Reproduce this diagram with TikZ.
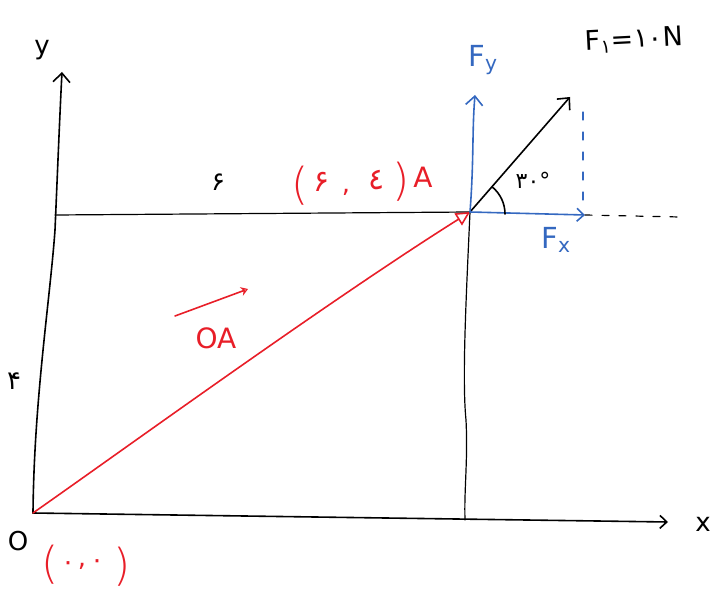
\documentclass[tikz,border=0pt]{standalone}
\usepackage{fontspec}
\setmainfont{DejaVu Sans}
\newfontfamily\fa{DejaVu Sans}
\usetikzlibrary{arrows.meta}
\definecolor{penred}{RGB}{232,30,40}
\definecolor{penblue}{RGB}{52,104,192}
\tikzset{
  ink/.style={line width=1.6pt, line cap=round, line join=round},
  thin ink/.style={line width=1.2pt, line cap=round},
  barb/.style={-{Straight Barb[length=9pt,width=17pt,line width=1.6pt]}},
  smallbarb/.style={-{Straight Barb[length=7pt,width=13pt,line width=1.6pt]}},
  lbl/.style={inner sep=0pt, font=\fontsize{26}{26}\selectfont},
  redlbl/.style={lbl, text=penred},
  bluelbl/.style={lbl, text=penblue, font=\fontsize{29}{29}\selectfont},
  paren/.style={redlbl, font=\fontsize{44}{44}\selectfont\fontspec{DejaVu Sans ExtraLight}},
}
\begin{document}
\begin{tikzpicture}[x=1pt,y=-1pt]
\useasboundingbox (0,0) rectangle (728,596);
% key points
\coordinate (O) at (33,513);
\coordinate (A) at (470,212);
\coordinate (ytip) at (62,72);
\coordinate (xtip) at (668,522);
\coordinate (hstart) at (55,215);
\coordinate (vbot) at (465,520);
\coordinate (Fytip) at (475,95);
\coordinate (Fxtip) at (585,215);
\coordinate (Ftip) at (570,97);
\coordinate (dtop) at (583,112);
\coordinate (dbot) at (583,206);
\coordinate (dend) at (680,217);
\coordinate (vs) at (175,316);
\coordinate (ve) at (248,289);
% axes
\draw[ink, barb] (O) .. controls (34,400) and (50,300) .. (55,230) .. controls (58,160) and (60,110) .. (ytip);
\draw[ink, smallbarb] (O) -- (xtip);
\node[lbl] (ylab) at (42,50) {y};
\node[lbl] (xlab) at (703,524) {x};
\node[lbl] (Olab) at (18,541) {O};
% guide lines
\draw[thin ink] (hstart) -- (A);
\draw[thin ink] (A) .. controls (466,300) and (462,380) .. (466,420) .. controls (468,460) and (464,490) .. (vbot);
\node[lbl] (six) at (218,182) {\fa ۶};
\node[lbl] (four) at (14,381) {\fa ۴};
% position vector
\draw[ink, penred, -{Triangle[open,length=14pt,width=14pt,line width=1.6pt]}] (O) .. controls (130,445) and (330,300) .. (A);
\draw[ink, penred, -{Stealth[open,length=7pt,width=9pt,line width=1.4pt]}] (vs) -- (ve);
\node[redlbl, font=\fontsize{28}{28}\selectfont] (OA) at (216,338) {OA};
% point A label
\node[paren] (pl) at (300,186) {(};
\node[redlbl, font=\fontsize{30}{30}\selectfont] (d6) at (322,182) {\fa ۶};
\node[redlbl] (cm) at (346,192) {,};
\node[redlbl, font=\fontsize{30}{30}\selectfont] (d4) at (377,180) {\fa ٤};
\node[paren] (pr) at (401,182) {)};
\node[redlbl, font=\fontsize{28}{28}\selectfont] (Alab) at (423,177) {A};
% origin label
\node[paren] (ol) at (50,565) {(};
\node[redlbl] (o1) at (68,566) {\fa ۰};
\node[redlbl] (oc) at (82,566) {,};
\node[redlbl] (o2) at (97,564) {\fa ۰};
\node[paren] (or) at (122,567) {)};
% force
\draw[ink, barb] (A) -- (Ftip);
\draw[ink, penblue, barb] (A) .. controls (474,160) and (472,130) .. (Fytip);
\draw[ink, penblue, smallbarb] (A) -- (Fxtip);
\draw[thin ink, penblue, dash pattern=on 8pt off 12pt] (dtop) -- (dbot);
\draw[thin ink, dash pattern=on 7pt off 10pt] (Fxtip) -- (dend);
\draw[ink] (505,214) arc[start angle=0, end angle=-50, radius=35];
\node[lbl, font=\fontsize{22}{22}\selectfont] (ang) at (533,180) {\fa ۳۰°};
\node[bluelbl] (Fy) at (483,60) {F\textsubscript{y}};
\node[bluelbl] (Fx) at (556,240) {F\textsubscript{x}};
\node[lbl, rotate=3, font=\fontsize{27}{27}\selectfont] (F1) at (634,40) {F\textsubscript{\fa ۱}=\fa ۱۰N};
\end{tikzpicture}
\end{document}
